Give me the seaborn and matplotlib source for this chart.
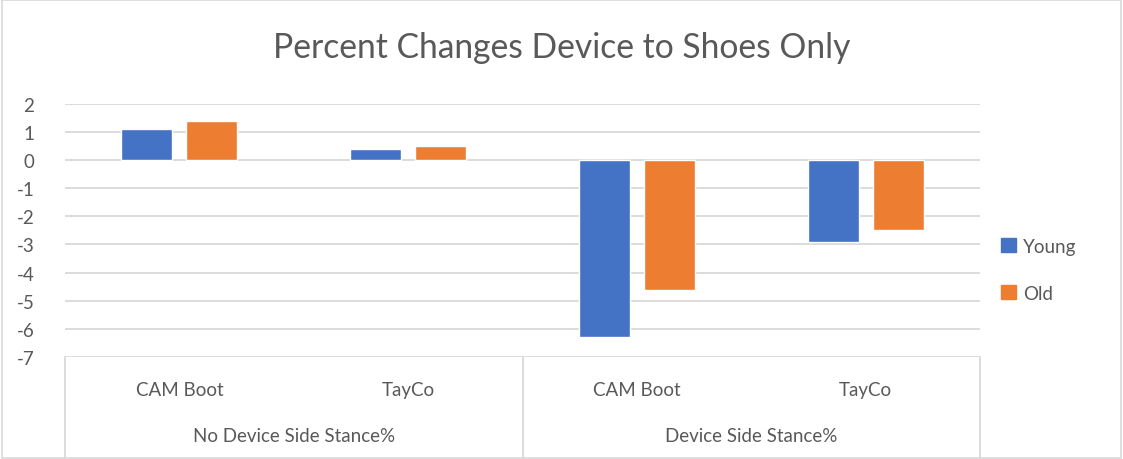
import matplotlib.pyplot as plt
import matplotlib.transforms as mtransforms
import matplotlib.patches as mpatches
import pandas as pd
import seaborn as sns

# Chart values
groups = ["No Device Side Stance%", "Device Side Stance%"]
shoes = ["CAM Boot", "TayCo"]
series = ["Young", "Old"]
young = [1.1, 0.4, -6.3, -2.9]
old = [1.4, 0.5, -4.6, -2.5]
yticks = [2, 1, 0, -1, -2, -3, -4, -5, -6, -7]

colors = ["#4472C4", "#ED7D31"]
text_grey = "#595959"
grid_grey = "#D9D9D9"

sns.set_theme(style="white")
plt.rcParams["font.family"] = ["Lato", "DejaVu Sans"]

# long table: one row per bar
slots = [f"{g}|{s}" for g in groups for s in shoes]
df = pd.DataFrame({
    "slot": slots * 2,
    "Series": [series[0]] * 4 + [series[1]] * 4,
    "value": young + old,
})

fig = plt.figure(figsize=(11.23, 4.6), dpi=100)
ax = fig.add_axes([0.0579, 0.2215, 0.8148, 0.551])

sns.barplot(data=df, x="slot", y="value", hue="Series", order=slots,
            hue_order=series, palette=colors, width=0.568, gap=0.215,
            saturation=1, errorbar=None, ax=ax)

ax.set_ylim(-7, 2)
ax.set_xlim(-0.5, 3.5)
ax.set_yticks(yticks)
ax.set_yticklabels([str(t) for t in yticks], color=text_grey, fontsize=13.5)
ax.tick_params(axis="y", length=0, pad=22)
ax.yaxis.grid(True, color=grid_grey, linewidth=1.3)
ax.set_axisbelow(True)
for sp in ax.spines.values():
    sp.set_visible(False)
ax.set_xlabel("")
ax.set_ylabel("")

# first level category labels
ax.set_xticks(range(len(slots)))
ax.set_xticklabels([s.split("|")[1] for s in slots], color=text_grey, fontsize=13.5)
ax.tick_params(axis="x", length=0, pad=17)

# second level labels and separators
trans = mtransforms.blended_transform_factory(ax.transData, ax.transAxes)
for i, g in enumerate(groups):
    ax.text(i * 2 + 0.5, -0.31, g, transform=trans, ha="center", va="center",
            color=text_grey, fontsize=13.5)
for xs in [-0.5, 1.5, 3.5]:
    ax.plot([xs, xs], [0, -0.41], transform=trans, color=grid_grey,
            linewidth=1.3, clip_on=False)

# legend
handles = [mpatches.Patch(color=c, label=s) for c, s in zip(colors, series)]
leg = ax.legend(handles=handles, loc="center left", bbox_to_anchor=(1.005, 0.345),
                frameon=False, fontsize=13.5, handlelength=0.75, handleheight=0.75,
                handletextpad=0.4, labelspacing=1.6)
for t in leg.get_texts():
    t.set_color(text_grey)

fig.suptitle("Percent Changes Device to Shoes Only", y=0.93, fontsize=24.2,
             color=text_grey)

# chart area border
fig.patches.append(mpatches.Rectangle((0.002, 0.002), 0.996, 0.996,
                                      transform=fig.transFigure, fill=False,
                                      edgecolor=grid_grey, linewidth=1.2))

fig.savefig("out.png", dpi=100)
